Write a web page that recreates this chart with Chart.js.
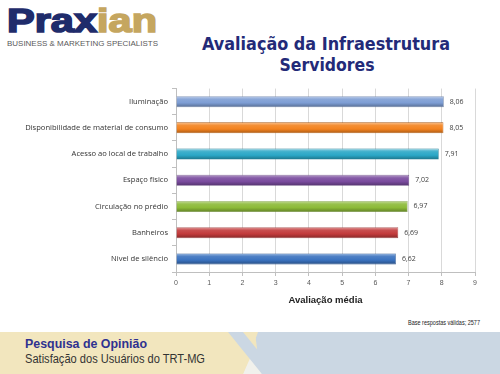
<!DOCTYPE html>
<html>
<head>
<meta charset="utf-8">
<script src="https://cdn.jsdelivr.net/npm/chart.js"></script>
<style>
  html, body { margin: 0; padding: 0; background: #fff; }
  #wrap { position: relative; width: 500px; height: 374px; overflow: hidden; }
  #deco { position: absolute; left: 0; top: 0; }
  #chartBox { position: absolute; left: 0; top: 80px; width: 500px; height: 226px; }
</style>
</head>
<body>
<div id="wrap">
  <svg id="deco" width="500" height="374" xmlns="http://www.w3.org/2000/svg">
    <text x="7" y="32" font-family="Liberation Sans, Arial" font-weight="bold" font-size="33" stroke-width="1.6" textLength="150" lengthAdjust="spacingAndGlyphs"><tspan fill="#1f2c6b" stroke="#1f2c6b">Prax</tspan><tspan fill="#c5a65f" stroke="#c5a65f">ian</tspan></text>
    <text x="7" y="45.5" font-family="Liberation Sans, Arial" font-size="7" fill="#5a5a5a" textLength="151" lengthAdjust="spacingAndGlyphs">BUSINESS &amp; MARKETING SPECIALISTS</text>
    <text x="326" y="50" text-anchor="middle" font-family="DejaVu Sans, Verdana" font-weight="bold" font-size="17" fill="#232a78" textLength="248" lengthAdjust="spacingAndGlyphs">Avaliação da Infraestrutura</text>
    <text x="327" y="71" text-anchor="middle" font-family="DejaVu Sans, Verdana" font-weight="bold" font-size="17" fill="#232a78" textLength="95" lengthAdjust="spacingAndGlyphs">Servidores</text>
    <text x="480" y="325" text-anchor="end" font-family="Liberation Sans, Arial" font-size="7" fill="#222" textLength="72" lengthAdjust="spacingAndGlyphs">Base respostas válidas; 2577</text>
    <rect x="0" y="332" width="500" height="42" fill="#f2e6be"/>
    <polygon points="255,332 500,332 500,374 260,374" fill="#cbd7e3"/>
    <polygon points="243,374 252,354 262,374" fill="#f1f1ec"/>
    <polygon points="243,332 258,332 243,374 228,374" fill="#f2e6be"/>
    <polygon points="228,332 243,332 277,374 262,374" fill="#cbd7e3"/>
    <text x="25" y="348" font-family="Liberation Sans, Arial" font-weight="bold" font-size="13" fill="#2f3190" textLength="122" lengthAdjust="spacingAndGlyphs">Pesquisa de Opinião</text>
    <text x="25" y="363" font-family="Liberation Sans, Arial" font-size="12" fill="#333" textLength="180" lengthAdjust="spacingAndGlyphs">Satisfação dos Usuários do TRT-MG</text>
  </svg>
  <div id="chartBox"><canvas id="barChart" width="500" height="226"></canvas></div>
</div>
<script>
const categories = [
  'Iluminação',
  'Disponibilidade de material de consumo',
  'Acesso ao local de trabalho',
  'Espaço físico',
  'Circulação no prédio',
  'Banheiros',
  'Nivel de silêncio'
];
const avgScores = [8.06, 8.05, 7.91, 7.02, 6.97, 6.69, 6.62];
const barColors = ['#7d9dd4', '#f3821f', '#2aa7c6', '#7a4b9e', '#8cba38', '#c23a3b', '#3a72bf'];
const xTicks = [0, 1, 2, 3, 4, 5, 6, 7, 8, 9];

function shade(hex, amt) {
  const n = parseInt(hex.slice(1), 16);
  let r = n >> 16, g = (n >> 8) & 255, b = n & 255;
  const f = v => Math.max(0, Math.min(255, Math.round(amt > 0 ? v + (255 - v) * amt : v * (1 + amt))));
  return 'rgb(' + f(r) + ',' + f(g) + ',' + f(b) + ')';
}

// glossy bar fill, built from the category scale position
function barFill(context) {
  const chart = context.chart;
  const base = barColors[context.dataIndex];
  if (!chart.chartArea || !chart.scales.y) return base;
  const y = chart.scales.y.getPixelForValue(context.dataIndex);
  const g = chart.ctx.createLinearGradient(0, y - 6, 0, y + 6);
  g.addColorStop(0, shade(base, 0.55));
  g.addColorStop(0.3, shade(base, 0.1));
  g.addColorStop(0.6, base);
  g.addColorStop(1, shade(base, -0.35));
  return g;
}

const valueLabels = {
  id: 'valueLabels',
  afterDatasetsDraw(chart) {
    const ctx = chart.ctx;
    const meta = chart.getDatasetMeta(0);
    ctx.save();
    ctx.font = '7px "Open Sans", sans-serif';
    ctx.fillStyle = '#404040';
    ctx.textAlign = 'left';
    ctx.textBaseline = 'middle';
    meta.data.forEach((bar, i) => {
      ctx.fillText(avgScores[i].toFixed(2).replace('.', ','), bar.x + 6, bar.y);
    });
    ctx.restore();
  }
};

const ctx = document.getElementById('barChart');

new Chart(ctx, {
  type: 'bar',
  data: {
    labels: categories,
    datasets: [{
      data: avgScores,
      backgroundColor: barFill,
      borderColor: barColors.map(c => shade(c, -0.3)),
      borderWidth: 0.6,
      barPercentage: 0.42,
      categoryPercentage: 1
    }]
  },
  options: {
    indexAxis: 'y',
    responsive: false,
    animation: false,
    layout: { padding: { top: 6, right: 25, bottom: 0, left: 0 } },
    scales: {
      x: {
        min: 0,
        max: 9,
        afterBuildTicks: s => { s.ticks = xTicks.map(v => ({ value: v })); },
        grid: { color: '#d9d9d9', lineWidth: 1, tickLength: 4, tickColor: '#bfbfbf' },
        border: { color: '#bfbfbf' },
        ticks: { color: '#595959', padding: 3, font: { size: 7, family: '"Liberation Sans", Arial' } },
        title: {
          display: true,
          text: 'Avaliação média',
          color: '#222',
          padding: { top: 0, bottom: 0 },
          font: { size: 9.5, weight: 'bold', family: '"Liberation Sans", Arial' }
        },
        afterFit: s => { s.height = 34; }
      },
      y: {
        grid: { display: true, drawOnChartArea: false, offset: true, tickLength: 4, tickColor: '#bfbfbf' },
        border: { color: '#bfbfbf' },
        ticks: { color: '#333', padding: 4, font: { size: 7.6, family: '"Open Sans", sans-serif' } },
        afterFit: s => { s.width = 176; }
      }
    },
    plugins: {
      legend: { display: false },
      tooltip: { enabled: false }
    }
  },
  plugins: [valueLabels]
});
</script>
</body>
</html>
